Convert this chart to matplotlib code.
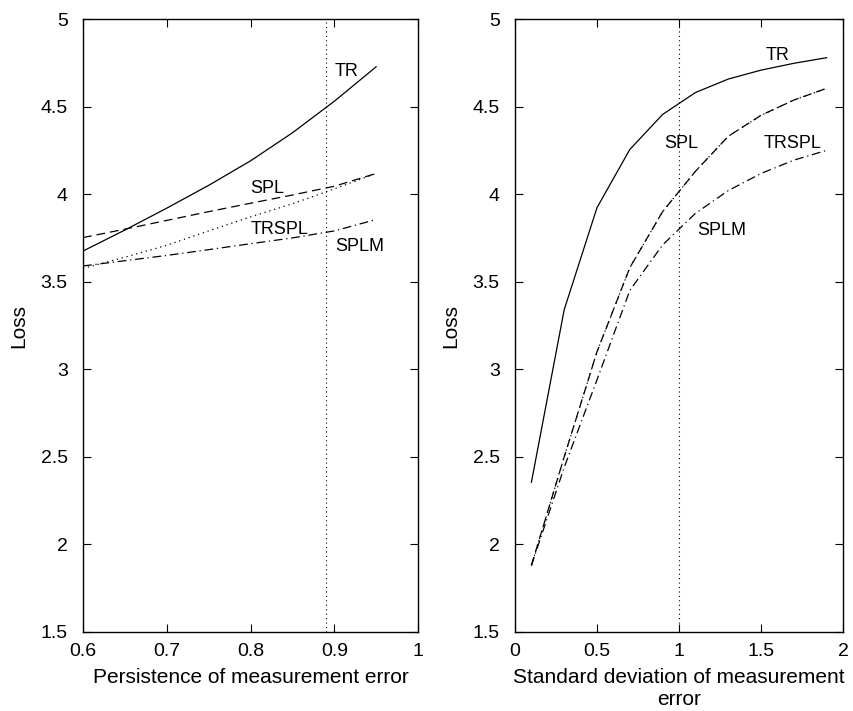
import matplotlib
matplotlib.use("Agg")
import matplotlib.pyplot as plt

plt.rcParams['font.family'] = ['Liberation Sans', 'DejaVu Sans']

# Left panel: persistence of measurement error
persistence = [0.60, 0.65, 0.70, 0.75, 0.80, 0.85, 0.90, 0.95]
left_TR = [3.675, 3.795, 3.92, 4.05, 4.19, 4.35, 4.53, 4.727]
left_SPL = [3.752, 3.80, 3.85, 3.90, 3.948, 3.995, 4.045, 4.118]
left_TRSPL = [3.576, 3.64, 3.708, 3.79, 3.87, 3.945, 4.03, 4.118]
left_SPLM = [3.59, 3.62, 3.65, 3.683, 3.717, 3.75, 3.79, 3.855]
left_vline = 0.89

# Right panel: standard deviation of measurement error
std_dev = [0.1, 0.3, 0.5, 0.7, 0.9, 1.1, 1.3, 1.5, 1.7, 1.9]
right_TR = [2.355, 3.34, 3.923, 4.255, 4.455, 4.58, 4.657, 4.708, 4.747, 4.779]
right_SPL = [1.88, 2.50, 3.10, 3.58, 3.90, 4.13, 4.33, 4.45, 4.537, 4.604]
right_TRSPL = [1.88, 2.50, 3.10, 3.58, 3.90, 4.13, 4.33, 4.45, 4.537, 4.604]
right_SPLM = [1.88, 2.44, 2.94, 3.45, 3.71, 3.89, 4.02, 4.118, 4.194, 4.25]
right_vline = 1.0

left_xticks = [0.6, 0.7, 0.8, 0.9, 1.0]
left_xticklabels = ['0.6', '0.7', '0.8', '0.9', '1']
right_xticks = [0, 0.5, 1, 1.5, 2]
right_xticklabels = ['0', '0.5', '1', '1.5', '2']
yticks = [1.5, 2, 2.5, 3, 3.5, 4, 4.5, 5]
yticklabels = ['1.5', '2', '2.5', '3', '3.5', '4', '4.5', '5']

fig = plt.figure(figsize=(8.54, 7.11), dpi=100)
axL = fig.add_axes([83/854, 79/711, 335/854, 613/711])
axR = fig.add_axes([515/854, 79/711, 328/854, 613/711])

lw = 0.9
dash = (0, (7, 4))
dot = (0, (1, 3))
dashdot = (0, (7, 3, 1, 3))

for ax in (axL, axR):
    ax.set_ylim(1.5, 5)
    ax.set_yticks(yticks)
    ax.set_yticklabels(yticklabels)
    ax.tick_params(direction='in', top=True, right=True, labelsize=14,
                   length=6, width=0.8)
    ax.tick_params(axis='y', pad=11)
    ax.tick_params(axis='x', pad=8)
    for s in ax.spines.values():
        s.set_linewidth(1.0)
    ax.set_ylabel('Loss', fontsize=15, labelpad=9)

# Left panel
axL.plot(persistence, left_TR, color='black', lw=lw)
axL.plot(persistence, left_SPL, color='black', lw=lw, linestyle=dash)
axL.plot(persistence, left_TRSPL, color='black', lw=lw, linestyle=dot)
axL.plot(persistence, left_SPLM, color='black', lw=lw, linestyle=dashdot)
axL.axvline(left_vline, color='black', lw=0.8, linestyle=dot)
axL.set_xlim(0.6, 1.0)
axL.set_xticks(left_xticks)
axL.set_xticklabels(left_xticklabels)
axL.set_xlabel('Persistence of measurement error', fontsize=15, labelpad=6)
txt = dict(fontsize=13, va='center', ha='left')
axL.text(0.901, 4.70, 'TR', **txt)
axL.text(0.80, 4.03, 'SPL', **txt)
axL.text(0.80, 3.80, 'TRSPL', **txt)
axL.text(0.901, 3.70, 'SPLM', **txt)

# Right panel
axR.plot(std_dev, right_TR, color='black', lw=lw)
axR.plot(std_dev, right_SPL, color='black', lw=lw, linestyle=dash)
axR.plot(std_dev, right_TRSPL, color='black', lw=lw, linestyle=dot)
axR.plot(std_dev, right_SPLM, color='black', lw=lw, linestyle=dashdot)
axR.axvline(right_vline, color='black', lw=0.8, linestyle=dot)
axR.set_xlim(0, 2)
axR.set_xticks(right_xticks)
axR.set_xticklabels(right_xticklabels)
axR.set_xlabel('Standard deviation of measurement\nerror', fontsize=15,
               labelpad=6, linespacing=1.2)
axR.text(1.53, 4.79, 'TR', **txt)
axR.text(0.909, 4.29, 'SPL', **txt)
axR.text(1.518, 4.29, 'TRSPL', **txt)
axR.text(1.114, 3.79, 'SPLM', **txt)

fig.savefig('out.png', dpi=100)
